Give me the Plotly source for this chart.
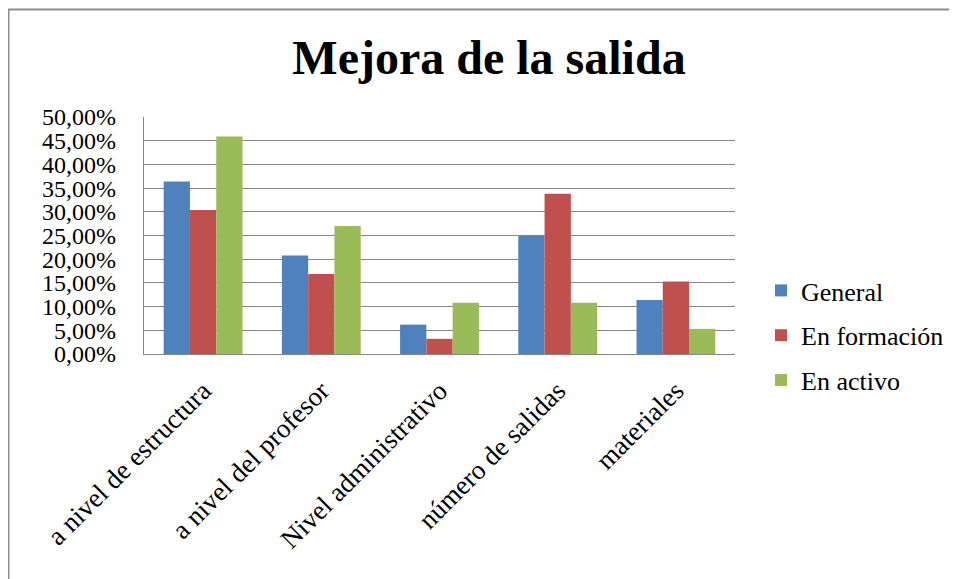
import plotly.graph_objects as go

categories = ["a nivel de estructura", "a nivel del profesor", "Nivel administrativo",
              "número de salidas", "materiales"]
general = [36.4, 20.8, 6.2, 25.0, 11.4]
en_formacion = [30.4, 16.9, 3.2, 33.8, 15.3]
en_activo = [45.9, 27.0, 10.8, 10.8, 5.3]
series_names = ["General", "En formación", "En activo"]
colors = ["#4F81BD", "#C0504D", "#9BBB59"]
tick_vals = [0, 5, 10, 15, 20, 25, 30, 35, 40, 45, 50]
tick_text = ["0,00%", "5,00%", "10,00%", "15,00%", "20,00%", "25,00%", "30,00%",
             "35,00%", "40,00%", "45,00%", "50,00%"]

W, H = 957, 579
OFF = 8  # page body margin offset
L, R, T, B = 144 - OFF, 735 - OFF, 117 - OFF, 354 - OFF

font_family = "Liberation Serif, Times New Roman, serif"
grid_col = "#878787"

fig = go.Figure()
for name, vals, col in zip(series_names, [general, en_formacion, en_activo], colors):
    fig.add_trace(go.Bar(x=categories, y=vals, name=name,
                         marker_color=col, marker_line_width=0, legendgroup=name))

fig.update_layout(
    width=W, height=H,
    margin=dict(l=L, r=W - R, t=T, b=H - B, autoexpand=False),
    paper_bgcolor="white", plot_bgcolor="white",
    font=dict(family=font_family, color="black"),
    barmode="group", bargap=0.333, bargroupgap=0,
    title=dict(text="<b>Mejora de la salida</b>", x=(489 - OFF) / W, xanchor="center",
               y=1 - (57 - OFF) / H, yanchor="middle", yref="container",
               font=dict(size=48, family=font_family, color="black")),
    legend=dict(x=(761 - OFF - L) / (R - L), xanchor="left",
                y=(B - (335.5 - OFF)) / (B - T), yanchor="middle",
                font=dict(size=26, family=font_family, color="black"), tracegroupgap=8,
                bgcolor="rgba(0,0,0,0)"),
    showlegend=True,
)
fig.update_yaxes(range=[0, 50], tickvals=tick_vals, ticktext=tick_text,
                 showgrid=True, gridcolor=grid_col, gridwidth=1.3,
                 showline=True, linecolor=grid_col, linewidth=1.3,
                 ticks="", ticklabelstandoff=22,
                 tickfont=dict(size=24, family=font_family), zeroline=False)
fig.update_xaxes(showline=True, linecolor=grid_col, linewidth=1.3, ticks="",
                 tickangle=-45, tickfont=dict(size=27, family=font_family),
                 ticklabelstandoff=9)

# outer chart frame (left and top edges visible)
px = lambda v: (v - L) / (R - L)
py = lambda v: (B - v) / (B - T)
fig.add_shape(type="line", xref="paper", yref="paper", x0=px(0.5), x1=px(0.5),
              y0=py(1), y1=py(600), line=dict(color="#8c8c8c", width=2))
fig.add_shape(type="line", xref="paper", yref="paper", x0=px(0), x1=px(980),
              y0=py(1.5), y1=py(1.5), line=dict(color="#8c8c8c", width=2))

fig.write_html("out.html")
